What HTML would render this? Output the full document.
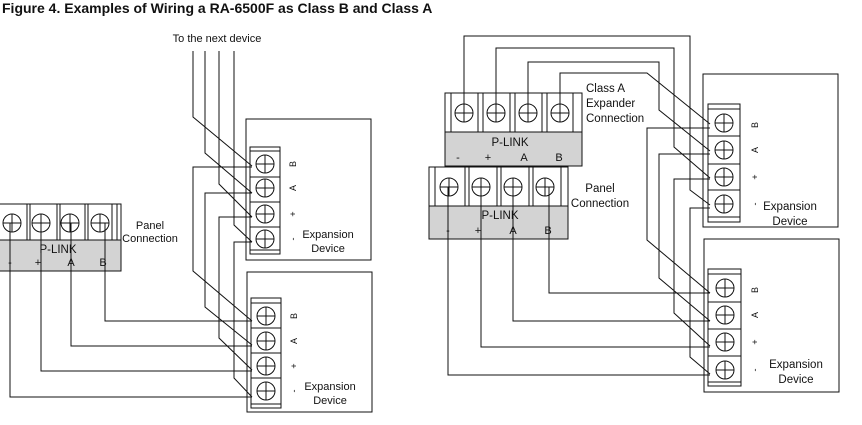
<!DOCTYPE html>
<html><head><meta charset="utf-8"><style>
body{margin:0;background:#fff;width:862px;height:420px;overflow:hidden}
svg text{font-family:"Liberation Sans",sans-serif;fill:#111}
</style></head><body>
<svg width="862" height="420" xmlns="http://www.w3.org/2000/svg">
<defs>
<g id="sc"><circle r="9" fill="#fff" stroke="#111" stroke-width="1"/><path d="M-9 0H9M0 -9V9" stroke="#111" stroke-width="1"/></g>
</defs>
<text x="2" y="13" font-size="14" font-weight="bold">Figure 4. Examples of Wiring a RA-6500F as Class B and Class A</text>

<!-- LEFT DIAGRAM -->
<text x="217" y="42" font-size="11" text-anchor="middle">To the next  device</text>
<rect x="-1" y="240" width="122" height="31" fill="#d3d3d3" stroke="#111"/>
<rect x="-1" y="204" width="122" height="36" fill="#fff" stroke="#111"/>
<g stroke="#111" fill="none"><path d="M27 204V240M30 204V240M57 204V240M60 204V240M85 204V240M88 204V240M112 204V240M117 204V240"/></g>
<use href="#sc" x="12" y="223"/><use href="#sc" x="41" y="223"/><use href="#sc" x="70" y="223"/><use href="#sc" x="100" y="223"/>
<text x="58" y="253" font-size="11.5" text-anchor="middle">P-LINK</text>
<g font-size="11" text-anchor="middle"><text x="10" y="266">-</text><text x="38" y="266">+</text><text x="71" y="266">A</text><text x="103" y="266">B</text></g>
<text x="150" y="229" font-size="11" text-anchor="middle">Panel</text><text x="150" y="242" font-size="11" text-anchor="middle">Connection</text>

<rect x="246" y="119" width="125" height="141" fill="#fff" stroke="#111"/>
<rect x="250" y="147" width="30" height="107" fill="#fff" stroke="#111"/>
<path d="M250 151H280M250 177H280M250 202H280M250 227H280M250 250H280" stroke="#111"/>
<use href="#sc" x="265" y="164"/><use href="#sc" x="265" y="188"/><use href="#sc" x="265" y="214"/><use href="#sc" x="265" y="239"/>
<g font-size="9" text-anchor="middle"><text transform="translate(296,164) rotate(-90)">B</text><text transform="translate(296,188) rotate(-90)">A</text><text transform="translate(296,214) rotate(-90)">+</text><text transform="translate(296,239) rotate(-90)">-</text></g>
<text x="328" y="238" font-size="11" text-anchor="middle">Expansion</text><text x="328" y="252" font-size="11" text-anchor="middle">Device</text>
<rect x="247" y="272" width="125" height="140" fill="#fff" stroke="#111"/>
<rect x="251" y="298" width="30" height="110" fill="#fff" stroke="#111"/>
<path d="M251 303H281M251 328H281M251 353H281M251 378H281M251 404H281" stroke="#111"/>
<use href="#sc" x="266" y="316"/><use href="#sc" x="266" y="341"/><use href="#sc" x="266" y="366"/><use href="#sc" x="266" y="391"/>
<g font-size="9" text-anchor="middle"><text transform="translate(297,316) rotate(-90)">B</text><text transform="translate(297,341) rotate(-90)">A</text><text transform="translate(297,366) rotate(-90)">+</text><text transform="translate(297,391) rotate(-90)">-</text></g>
<text x="330" y="390" font-size="11" text-anchor="middle">Expansion</text><text x="330" y="404" font-size="11" text-anchor="middle">Device</text>

<g stroke="#111" fill="none" stroke-width="1">
<path d="M193 51V117L252 166"/><path d="M205 51V153L252 193"/><path d="M219 51V184L252 217"/><path d="M234 51V225L252 242"/>
<path d="M252 167H193V271L252 321"/><path d="M252 193H205V307L252 345"/><path d="M252 217H219V338L252 370"/><path d="M252 242H234V378L252 397"/>
<path d="M105 223V321H252"/><path d="M71 223V346H252"/><path d="M41 223V371H252"/><path d="M10 223V397H252"/>
</g>

<!-- RIGHT DIAGRAM -->
<rect x="445" y="132" width="137" height="34" fill="#d3d3d3" stroke="#111"/>
<rect x="445" y="93" width="137" height="39" fill="#fff" stroke="#111"/>
<path d="M451 93V132M478 93V132M483 93V132M510 93V132M515 93V132M542 93V132M547 93V132M573 93V132" stroke="#111"/>
<use href="#sc" x="464" y="113"/><use href="#sc" x="496" y="113"/><use href="#sc" x="528" y="113"/><use href="#sc" x="560" y="113"/>
<text x="510" y="146" font-size="11.5" text-anchor="middle">P-LINK</text>
<g font-size="11" text-anchor="middle"><text x="458" y="161">-</text><text x="488" y="161">+</text><text x="524" y="161">A</text><text x="559" y="161">B</text></g>
<g font-size="11.5"><text x="586" y="92">Class A</text><text x="586" y="107">Expander</text><text x="586" y="122">Connection</text></g>
<rect x="429" y="206" width="139" height="33" fill="#d3d3d3" stroke="#111"/>
<rect x="429" y="167" width="139" height="39" fill="#fff" stroke="#111"/>
<path d="M435 167V206M465 167V206M469 167V206M497 167V206M501 167V206M529 167V206M533 167V206M561 167V206" stroke="#111"/>
<use href="#sc" x="449" y="187"/><use href="#sc" x="481" y="187"/><use href="#sc" x="513" y="187"/><use href="#sc" x="545" y="187"/>
<text x="500" y="219" font-size="11.5" text-anchor="middle">P-LINK</text>
<g font-size="11" text-anchor="middle"><text x="448" y="234">-</text><text x="478" y="234">+</text><text x="513" y="234">A</text><text x="548" y="234">B</text></g>
<g font-size="11.5" text-anchor="middle"><text x="600" y="192">Panel</text><text x="600" y="207">Connection</text></g>

<rect x="703" y="74" width="135" height="153" fill="#fff" stroke="#111"/>
<rect x="708" y="104" width="32" height="118" fill="#fff" stroke="#111"/>
<path d="M708 109H740M708 136H740M708 164H740M708 190H740M708 217H740" stroke="#111"/>
<use href="#sc" x="724" y="123"/><use href="#sc" x="724" y="150"/><use href="#sc" x="724" y="177"/><use href="#sc" x="724" y="204"/>
<g font-size="9" text-anchor="middle"><text transform="translate(758,125) rotate(-90)">B</text><text transform="translate(758,150) rotate(-90)">A</text><text transform="translate(758,177) rotate(-90)">+</text><text transform="translate(758,204) rotate(-90)">-</text></g>
<text x="790" y="210" font-size="11.5" text-anchor="middle">Expansion</text><text x="790" y="225" font-size="11.5" text-anchor="middle">Device</text>
<rect x="704" y="239" width="135" height="153" fill="#fff" stroke="#111"/>
<rect x="708" y="269" width="33" height="117" fill="#fff" stroke="#111"/>
<path d="M708 274H741M708 302H741M708 329H741M708 356H741M708 382H741" stroke="#111"/>
<use href="#sc" x="725" y="288"/><use href="#sc" x="725" y="315"/><use href="#sc" x="725" y="342"/><use href="#sc" x="725" y="370"/>
<g font-size="9" text-anchor="middle"><text transform="translate(758,290) rotate(-90)">B</text><text transform="translate(758,315) rotate(-90)">A</text><text transform="translate(758,342) rotate(-90)">+</text><text transform="translate(758,370) rotate(-90)">-</text></g>
<text x="796" y="368" font-size="11.5" text-anchor="middle">Expansion</text><text x="796" y="383" font-size="11.5" text-anchor="middle">Device</text>

<g stroke="#111" fill="none" stroke-width="1">
<path d="M464 113V36H690V190L710 205"/><path d="M496 113V48H674V147L710 178"/><path d="M528 113V62H659V110L710 151"/><path d="M560 113V73H647L710 124"/>
<path d="M710 128H647V240L710 293"/><path d="M710 154H659V278L710 321"/><path d="M710 179H674V313L710 346"/><path d="M710 208H690V357L710 374"/>
<path d="M549 187V293H710"/><path d="M513 187V321H710"/><path d="M481 187V347H710"/><path d="M448 187V375H710"/>
</g>
</svg>
</body></html>
